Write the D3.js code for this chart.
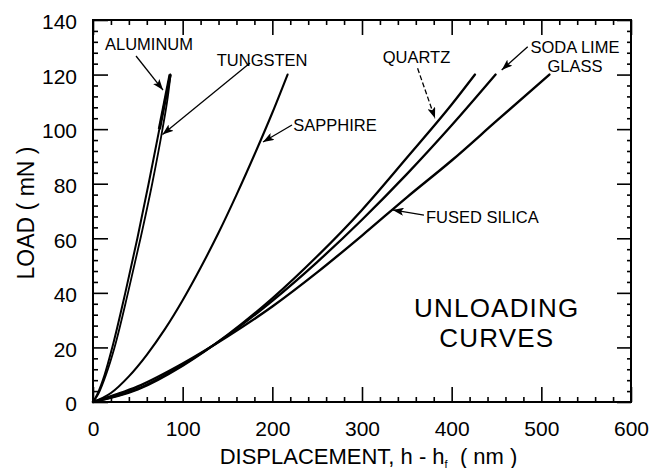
<!DOCTYPE html>
<html>
<head>
<meta charset="utf-8">
<script src="https://cdn.jsdelivr.net/npm/d3@7"></script>
<style>
  body { margin: 0; background: #fff; }
  svg { display: block; font-family: "Liberation Sans", Arial, Helvetica, sans-serif; }
  .axis text { font-size: 21px; fill: #000; }
  .axis line { stroke: #000; stroke-width: 1.6px; }
  .axis path { display: none; }
  .lbl { font-size: 16.5px; fill: #000; }
  .big { font-size: 26px; letter-spacing: 1.2px; fill: #000; }
</style>
</head>
<body>
<div id="chart"></div>
<script>
// unloading curves: [displacement h-hf (nm), load (mN)]
var aluminum = [[0,0],[5,3],[13,10],[21.5,20],[36,40],[49.5,60],[62,80],[74,100],[86,120]];
var tungsten = [[0,0],[6,3],[14.5,10],[24,20],[39,40],[53,60],[66,80],[77.5,100],[83.5,112],[86.5,120]];
var sapphire = [[0,0],[20,3.3],[40,9.4],[60,17.3],[80,26.6],[100,37.3],[120,49.2],[140,62],[160,75.9],[180,90.6],[200,106],[217,120]];
var quartz = [[0,0],[50,4.6],[100,13.3],[150,24.6],[200,38],[250,53.4],[300,70.4],[350,89.5],[400,109],[426,120]];
var sodaLime = [[0,0],[50,4.9],[100,13.6],[150,24.4],[200,37.1],[250,51.3],[300,66.8],[350,83.5],[400,101.4],[449,120]];
var fusedSilica = [[0,0],[50,5.7],[100,14.1],[150,24],[200,35],[250,47.5],[300,61],[350,75],[400,88.5],[450,103],[509,120]];

var xTicks = [0, 100, 200, 300, 400, 500, 600];
var yTicks = [0, 20, 40, 60, 80, 100, 120, 140];

// labels and arrows in data units
var labels = [
  {text: "ALUMINUM", h: 13.4, p: 129},
  {text: "TUNGSTEN", h: 138, p: 123.1},
  {text: "SAPPHIRE", h: 223.4, p: 99.4},
  {text: "QUARTZ", h: 323.1, p: 124.2},
  {text: "SODA LIME", h: 537.5, p: 127.8, anchor: "middle"},
  {text: "GLASS", h: 537.5, p: 121, anchor: "middle"},
  {text: "FUSED SILICA", h: 371.4, p: 65.5}
];
var arrows = [
  {from: [48, 126.8], to: [78.1, 114.3]},
  {from: [175.1, 124.2], to: [77.5, 98]},
  {from: [221.9, 101.5], to: [189.6, 95.3]},
  {from: [362, 122.3], to: [381.4, 104], dashed: true},
  {from: [484.8, 130.2], to: [455.8, 121.7]},
  {from: [369.1, 68.5], to: [334.2, 70.4]}
];

var width = 672, height = 468;
var margin = {top: 20, right: 41, bottom: 66, left: 93};

var x = d3.scaleLinear().domain([0, 600]).range([margin.left, width - margin.right]);
var y = d3.scaleLinear().domain([0, 140]).range([height - margin.bottom, margin.top]);

var svg = d3.select("#chart").append("svg")
    .attr("width", width)
    .attr("height", height);

svg.append("defs").append("marker")
    .attr("id", "head")
    .attr("markerUnits", "userSpaceOnUse")
    .attr("markerWidth", 11)
    .attr("markerHeight", 8)
    .attr("refX", 11)
    .attr("refY", 4)
    .attr("orient", "auto")
  .append("path")
    .attr("d", "M0,0L11,4L0,8L2.5,4Z")
    .attr("fill", "#000");

var xMinor = d3.range(0, 601, 20).filter(function (d) { return d % 100 !== 0; });
var yMinor = d3.range(0, 141, 4).filter(function (d) { return d % 20 !== 0; });

// major ticks point inward on all four sides
svg.append("g").attr("class", "axis")
    .attr("transform", "translate(0," + y(0) + ")")
    .call(d3.axisBottom(x).tickValues(xTicks).tickSize(-15).tickPadding(19.5));
svg.append("g").attr("class", "axis")
    .attr("transform", "translate(0," + y(0) + ")")
    .call(d3.axisBottom(x).tickValues(xMinor).tickSize(-5).tickFormat(""));
svg.append("g").attr("class", "axis")
    .attr("transform", "translate(0," + y(140) + ")")
    .call(d3.axisTop(x).tickValues(xTicks).tickSize(-15).tickFormat(""));
svg.append("g").attr("class", "axis")
    .attr("transform", "translate(0," + y(140) + ")")
    .call(d3.axisTop(x).tickValues(xMinor).tickSize(-5).tickFormat(""));

var yAxis = svg.append("g").attr("class", "axis")
    .attr("transform", "translate(" + x(0) + ",0)")
    .call(d3.axisLeft(y).tickValues(yTicks).tickSize(-15).tickPadding(16));
yAxis.selectAll("text").attr("dy", "0.42em");
svg.append("g").attr("class", "axis")
    .attr("transform", "translate(" + x(0) + ",0)")
    .call(d3.axisLeft(y).tickValues(yMinor).tickSize(-5).tickFormat(""));
svg.append("g").attr("class", "axis")
    .attr("transform", "translate(" + x(600) + ",0)")
    .call(d3.axisRight(y).tickValues(yTicks).tickSize(-14).tickFormat(""));
svg.append("g").attr("class", "axis")
    .attr("transform", "translate(" + x(600) + ",0)")
    .call(d3.axisRight(y).tickValues(yMinor).tickSize(-4).tickFormat(""));

// frame
svg.append("rect")
    .attr("x", x(0))
    .attr("y", y(140))
    .attr("width", x(600) - x(0))
    .attr("height", y(0) - y(140))
    .attr("fill", "none")
    .attr("stroke", "#000")
    .attr("stroke-width", 2);

var line = d3.line()
    .x(function (d) { return x(d[0]); })
    .y(function (d) { return y(d[1]); })
    .curve(d3.curveMonotoneX);

var curves = [
  {data: fusedSilica, w: 2.4},
  {data: sodaLime, w: 2.3},
  {data: quartz, w: 2.3},
  {data: sapphire, w: 2.1},
  {data: tungsten, w: 1.8},
  {data: aluminum, w: 2.0}
];
svg.append("g").selectAll("path")
    .data(curves)
    .enter().append("path")
    .attr("d", function (d) { return line(d.data); })
    .attr("fill", "none")
    .attr("stroke", "#000")
    .attr("stroke-width", function (d) { return d.w; })
    .attr("stroke-linecap", "round");

// thick top end of the aluminum curve
svg.append("path")
    .attr("d", line(aluminum.filter(function (d) { return d[1] >= 100; })))
    .attr("fill", "none")
    .attr("stroke", "#000")
    .attr("stroke-width", 3.2);

svg.append("g").selectAll("line")
    .data(arrows)
    .enter().append("line")
    .attr("x1", function (d) { return x(d.from[0]); })
    .attr("y1", function (d) { return y(d.from[1]); })
    .attr("x2", function (d) { return x(d.to[0]); })
    .attr("y2", function (d) { return y(d.to[1]); })
    .attr("stroke", "#000")
    .attr("stroke-width", 1.3)
    .attr("stroke-dasharray", function (d) { return d.dashed ? "5,2.5" : null; })
    .attr("marker-end", "url(#head)");

svg.append("g").selectAll("text")
    .data(labels)
    .enter().append("text")
    .attr("class", "lbl")
    .attr("x", function (d) { return x(d.h); })
    .attr("y", function (d) { return y(d.p); })
    .attr("text-anchor", function (d) { return d.anchor || "start"; })
    .text(function (d) { return d.text; });

// big annotation
svg.append("text")
    .attr("class", "big")
    .attr("x", x(450.3))
    .attr("y", y(31.2))
    .attr("text-anchor", "middle")
    .text("UNLOADING");
svg.append("text")
    .attr("class", "big")
    .attr("x", x(450.3))
    .attr("y", y(20.3))
    .attr("text-anchor", "middle")
    .text("CURVES");

// axis titles
var xt = svg.append("text")
    .attr("x", 368.5)
    .attr("y", 463.5)
    .attr("text-anchor", "middle")
    .style("font-size", "22px");
xt.append("tspan").text("DISPLACEMENT, h - h");
xt.append("tspan").attr("dy", 4).style("font-size", "11px").text("f");
xt.append("tspan").attr("dy", -4).text("\u00a0\u00a0( nm )");

svg.append("text")
    .attr("transform", "translate(34,213) rotate(-90)")
    .attr("text-anchor", "middle")
    .style("font-size", "23px")
    .text("LOAD ( mN )");
</script>
</body>
</html>
